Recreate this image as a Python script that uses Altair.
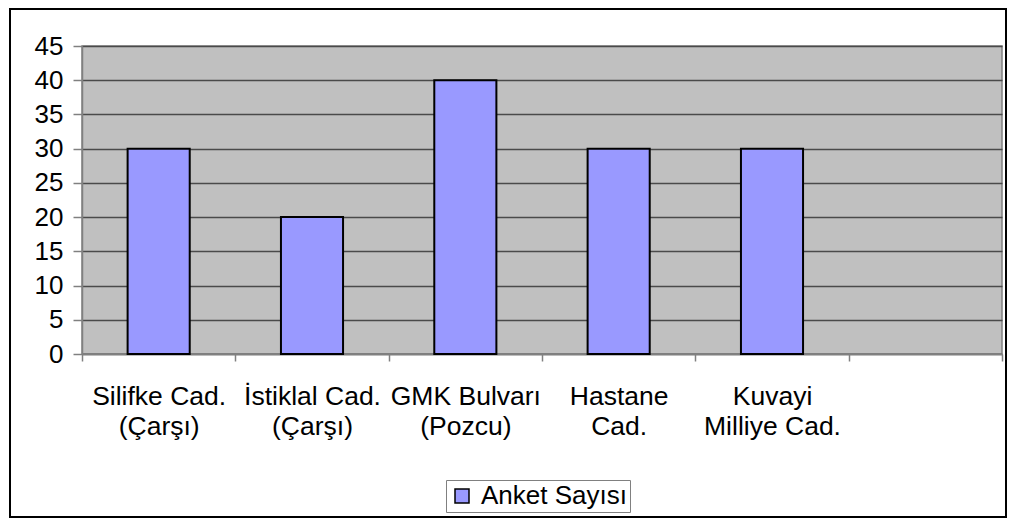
import altair as alt
import pandas as pd

categories = ["Silifke Cad.|(Çarşı)", "İstiklal Cad.|(Çarşı)", "GMK Bulvarı|(Pozcu)",
              "Hastane|Cad.", "Kuvayi|Milliye Cad.", " "]
bar_categories = categories[:5]
values = [30, 20, 40, 30, 30]
series = ["Anket Sayısı"] * 5
y_ticks = [0, 5, 10, 15, 20, 25, 30, 35, 40, 45]

df = pd.DataFrame({"cat": bar_categories, "value": values, "series": series})

FONT = "Liberation Sans"

bars = alt.Chart(df).mark_bar(
    width=alt.RelativeBandSize(0.405), stroke="black", strokeWidth=2
).encode(
    x=alt.X("cat:N", sort=categories,
            scale=alt.Scale(domain=categories, paddingInner=0, paddingOuter=0),
            axis=alt.Axis(title=None, labelAngle=0, tickBand="extent", grid=False,
                          labelExpr="split(datum.label, '|')",
                          labelFont=FONT, labelFontSize=26.5, labelColor="black",
                          labelLineHeight=30, labelPadding=22,
                          tickColor="#808080", tickSize=7, tickWidth=1.5,
                          domainColor="#808080", domainWidth=1.5,
                          labelBaseline="top")),
    y=alt.Y("value:Q", scale=alt.Scale(domain=[0, 45], nice=False),
            axis=alt.Axis(title=None, values=y_ticks, grid=True,
                          gridColor="#4a4a4a", gridWidth=1.5,
                          labelFont=FONT, labelFontSize=26, labelColor="black",
                          labelPadding=10, tickSize=9, tickColor="#808080",
                          tickWidth=1.5, domainColor="#808080", domainWidth=1.5)),
    color=alt.Color("series:N", scale=alt.Scale(range=["#9999FF"]),
                    legend=alt.Legend(title=None, orient="none", legendX=364, legendY=434,
                                      symbolType="square", symbolSize=196,
                                      symbolStrokeColor="black", symbolStrokeWidth=1.5,
                                      symbolFillColor="#9999FF",
                                      labelFont=FONT, labelFontSize=26, labelColor="black",
                                      labelOffset=6, padding=3,
                                      strokeColor="#808080", fillColor="white")),
)

border = alt.Chart(pd.DataFrame({"a": [0]})).mark_rect(
    fillOpacity=0, stroke="black", strokeWidth=2
).encode(
    x=alt.value(-72), x2=alt.value(924), y=alt.value(-37), y2=alt.value(471)
)

chart = alt.layer(bars, border).properties(
    width=920, height=308,
    autosize=alt.AutoSizeParams(type="none"),
    padding={"left": 74, "top": 38, "right": 6, "bottom": 164},
    background="white",
).configure_view(fill="#C0C0C0", stroke="#808080", strokeWidth=1.5)

chart.save("out.html", embed_options={"renderer": "svg", "actions": False})
